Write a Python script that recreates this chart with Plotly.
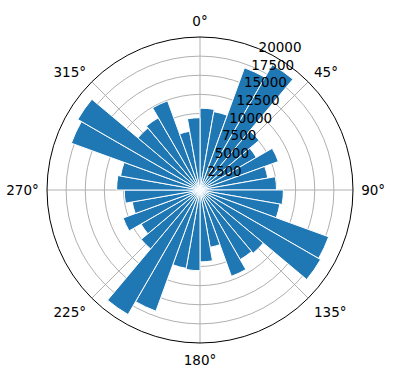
import plotly.graph_objects as go

# bin centres (degrees, clockwise from north) and bar heights
directions = [5, 15, 25, 35, 45, 55, 65, 75, 85, 95, 105, 115, 125, 135, 145, 155, 165, 175,
              185, 195, 205, 215, 225, 235, 245, 255, 265, 275, 285, 295, 305, 315, 325, 335, 345, 355]
counts = [10700, 10400, 17000, 18900, 10100, 8500, 10900, 9000, 10000,
          10900, 10600, 17900, 18200, 10800, 10500, 12000, 7600, 9400,
          10550, 10400, 16850, 18800, 10050, 8900, 10700, 9000, 9900,
          10900, 10550, 17900, 18450, 10600, 10900, 12400, 7800, 9450]
bin_width = 10
radial_ticks = [2500, 5000, 7500, 10000, 12500, 15000, 17500, 20000]
radial_label_angle = 22.5
angle_ticks = [0, 45, 90, 135, 180, 225, 270, 315]
angle_labels = [f"{a}°" for a in angle_ticks]
r_max = 20000

fig = go.Figure()
fig.add_trace(go.Barpolar(
    r=counts,
    theta=directions,
    width=[bin_width] * len(directions),
    marker=dict(color="#1f77b4", line=dict(color="white", width=1)),
    opacity=1,
))

font = dict(family="DejaVu Sans", size=13.5, color="black")

# radial tick labels, left-aligned at each tick position along 22.5°
fig.add_trace(go.Scatterpolar(
    r=radial_ticks,
    theta=[radial_label_angle] * len(radial_ticks),
    mode="text",
    text=[str(v) for v in radial_ticks],
    textposition="middle right",
    textfont=font,
    cliponaxis=False,
    hoverinfo="skip",
))

fig.update_layout(
    width=396, height=380,
    margin=dict(l=47, r=43, t=37, b=37),
    paper_bgcolor="white",
    showlegend=False,
    font=font,
    polar=dict(
        bgcolor="white",
        domain=dict(x=[0, 1], y=[0, 1]),
        radialaxis=dict(
            range=[0, r_max],
            tickvals=radial_ticks,
            showticklabels=False,
            angle=67.5,
            showline=False,
            ticks="",
            gridcolor="#b0b0b0",
            gridwidth=0.8,
            layer="above traces",
        ),
        angularaxis=dict(
            rotation=90,
            direction="clockwise",
            tickvals=angle_ticks,
            ticktext=angle_labels,
            showline=True,
            linecolor="black",
            linewidth=1,
            ticks="outside",
            ticklen=5,
            tickcolor="rgba(0,0,0,0)",
            gridcolor="#b0b0b0",
            gridwidth=0.8,
            layer="above traces",
            tickfont=font,
        ),
    ),
)

fig.write_html("out.html")
